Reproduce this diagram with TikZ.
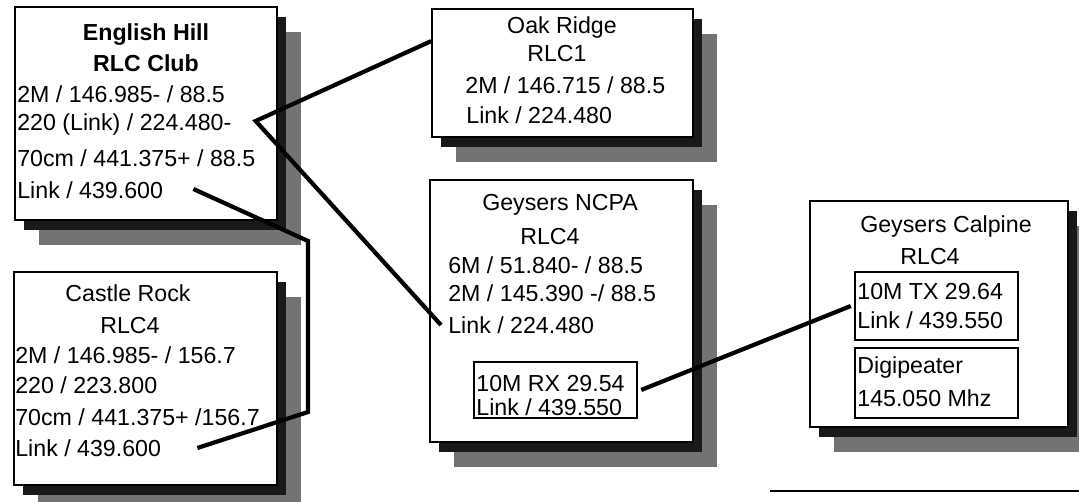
\documentclass[tikz,border=0pt]{standalone}
\usepackage{fontspec}
\setmainfont{Liberation Sans}
\usetikzlibrary{calc,shadows}

\tikzset{
  stanice/.style={draw=black, line width=1pt, fill=white, inner sep=0pt,
    drop shadow={shadow xshift=13.5pt, shadow yshift=-14pt, fill=black!55, opacity=1},
    drop shadow={shadow xshift=5pt, shadow yshift=-5.5pt, fill=black!90, opacity=1}},
  vnitrni/.style={draw=black, line width=0.8pt, fill=white, inner sep=0pt},
  radek/.style={anchor=west, inner sep=0pt, font=\fontsize{13.2}{15}\selectfont},
  nadpis/.style={inner sep=0pt, font=\fontsize{13.2}{15}\selectfont},
  spoj/.style={line width=2.4pt, line join=miter}
}

\begin{document}
\begin{tikzpicture}[x=0.02cm, y=-0.02cm]
        \clip (0,0) rectangle (1079,502);
        % Rámečky stanic (rozměry v pixelech předlohy, 1 px = 0.02 cm)
        \node[stanice, minimum width=5.24cm, minimum height=4.26cm] (eh) at (146,113.5) {};
        \node[stanice, minimum width=5.26cm, minimum height=4.26cm] (cr) at (145.5,378.5) {};
        \node[stanice, minimum width=5.22cm, minimum height=2.56cm] (oak) at (562.5,73) {};
        \node[stanice, minimum width=5.26cm, minimum height=5.24cm] (ncpa) at (561.5,311) {};
        \node[stanice, minimum width=5.16cm, minimum height=4.52cm] (calp) at (939,314) {};
        % Vnitřní rámečky pro 10M a digipeater
        \node[vnitrni, minimum width=3.26cm, minimum height=1.12cm] (rx) at (555.5,390) {};
        \node[vnitrni, minimum width=3.26cm, minimum height=1.36cm] (tx) at (936.5,306) {};
        \node[vnitrni, minimum width=3.26cm, minimum height=1.40cm] (digi) at (936.5,383) {};

        % English Hill
        \node[nadpis, font=\fontsize{13.2}{15}\selectfont\bfseries] (eh1) at (146,35) {English Hill};
        \node[nadpis, font=\fontsize{13.2}{15}\selectfont\bfseries] (eh2) at (146,63) {RLC Club};
        \node[radek] (eh3) at (17,94) {2M / 146.985- / 88.5};
        \node[radek] (eh4) at (17,125) {220 (Link) / 224.480-};
        \node[radek] (eh5) at (17,158) {70cm / 441.375+ / 88.5};
        \node[radek] (eh6) at (17,190) {Link / 439.600};

        % Castle Rock
        \node[nadpis] (cr1) at (128,293) {Castle Rock};
        \node[nadpis] (cr2) at (130,326) {RLC4};
        \node[radek] (cr3) at (15,355) {2M / 146.985- / 156.7};
        \node[radek] (cr4) at (15,385) {220 / 223.800};
        \node[radek] (cr5) at (15,417) {70cm / 441.375+ /156.7};
        \node[radek] (cr6) at (15,448) {Link / 439.600};

        % Oak Ridge
        \node[nadpis] (oak1) at (562,28) {Oak Ridge};
        \node[nadpis] (oak2) at (557,54) {RLC1};
        \node[radek] (oak3) at (465,85) {2M / 146.715 / 88.5};
        \node[radek] (oak4) at (466,115) {Link / 224.480};

        % Geysers NCPA
        \node[nadpis] (ncpa1) at (560,205) {Geysers NCPA};
        \node[nadpis] (ncpa2) at (550,237) {RLC4};
        \node[radek] (ncpa3) at (448,265) {6M / 51.840- / 88.5};
        \node[radek] (ncpa4) at (448,293) {2M / 145.390 -/ 88.5};
        \node[radek] (ncpa5) at (448,325) {Link / 224.480};
        \node[radek] (rx1) at (476,384) {10M RX 29.54};
        \node[radek] (rx2) at (476,407) {Link / 439.550};

        % Geysers Calpine
        \node[nadpis] (calp1) at (946,227) {Geysers Calpine};
        \node[nadpis] (calp2) at (930,257) {RLC4};
        \node[radek] (tx1) at (857,292) {10M TX 29.64};
        \node[radek] (tx2) at (857,320) {Link / 439.550};
        \node[radek] (digi1) at (857,368) {Digipeater};
        \node[radek] (digi2) at (857,398) {145.050 Mhz};

        % Spojení (linky)
        \coordinate (vhrot) at ($(eh4.east)+(24,-4)$);
        \coordinate (ehvystup) at ($(eh6.east)+(30,-1)$);
        \coordinate (crvstup) at ($(cr6.east)+(36,0)$);
        \draw[spoj] ($(oak.north west)+(0,33)$) -- (vhrot) -- ([xshift=-4pt]ncpa5.west);
        \draw[spoj] (ehvystup) -- (308,241) -- (308,412) -- (crvstup);
        \draw[spoj] ([xshift=2pt]rx.east) -- ([xshift=-2pt]tx.west);

        % Čára vpravo dole
        \draw[line width=1.3pt] (770,491) -- (1079,491);
    \end{tikzpicture}
\end{document}
